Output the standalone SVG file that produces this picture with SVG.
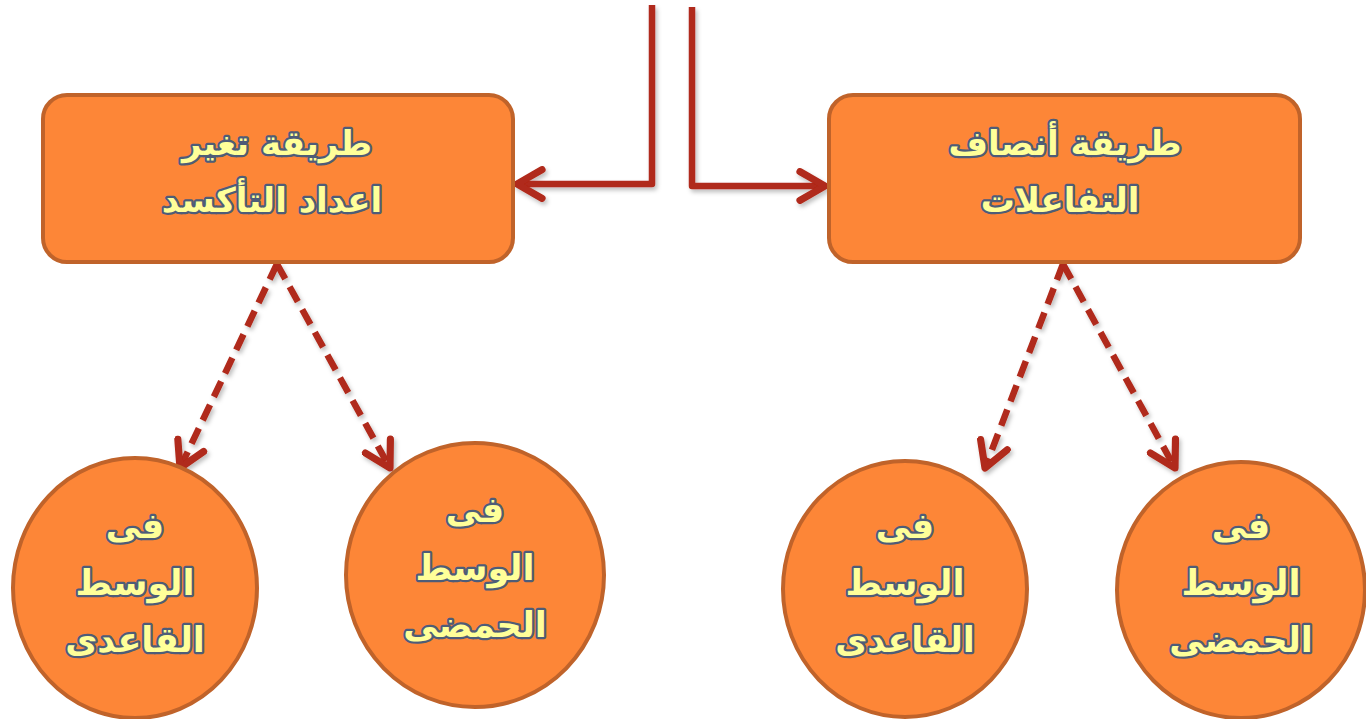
<svg xmlns="http://www.w3.org/2000/svg" width="1366" height="719" viewBox="0 0 1366 719">
<style>
.node{fill:#FD8637;stroke:#C0632A;stroke-width:4}
.t{font-family:"DejaVu Sans","Noto Sans",sans-serif;font-weight:bold;font-size:34px;fill:#FFFF99;stroke:#4E5C78;stroke-width:4.5;paint-order:stroke;stroke-linejoin:round;text-anchor:middle;direction:rtl}
.s{font-size:35px}
.c{fill:none;stroke:#B0291A;stroke-width:6.5;stroke-linejoin:round}
.d{fill:none;stroke:#B0291A;stroke-width:6.5;stroke-dasharray:17 9}
</style>
<defs>
<marker id="ah" viewBox="0 0 20 20" refX="17" refY="10" markerWidth="5.5" markerHeight="5.5" markerUnits="strokeWidth" orient="auto">
<path d="M3,2 L17,10 L3,18" fill="none" stroke="#B0291A" stroke-width="4" stroke-linecap="round" stroke-linejoin="round"/>
</marker>
<filter id="sh" x="-10%" y="-10%" width="120%" height="130%">
<feDropShadow dx="2" dy="3" stdDeviation="2" flood-color="#000" flood-opacity="0.25"/>
</filter>
</defs>
<g id="connectors" filter="url(#sh)">
<path class="c" d="M652,5 V184 H517" marker-end="url(#ah)"/>
<path class="c" d="M692,7 V186 H825" marker-end="url(#ah)"/>
<path class="d" d="M277,264 L180,468" marker-end="url(#ah)"/>
<path class="d" d="M277,264 L390,468" marker-end="url(#ah)"/>
<path class="d" d="M1063,264 L985,468" marker-end="url(#ah)"/>
<path class="d" d="M1063,264 L1175,468" marker-end="url(#ah)"/>
</g>
<g id="box1"><rect class="node" x="43" y="95" width="470" height="167" rx="24"/>
<text class="t" x="277" y="155">طريقة تغير</text><text class="t" x="272" y="212">اعداد التأكسد</text></g>
<g id="box2"><rect class="node" x="829" y="95" width="471" height="167" rx="24"/>
<text class="t" x="1065" y="155">طريقة أنصاف</text><text class="t" x="1060" y="212">التفاعلات</text></g>
<g id="c1"><ellipse class="node" cx="135" cy="588" rx="122" ry="130"/>
<text class="t s" x="135" y="538">فى</text><text class="t s" x="135" y="595">الوسط</text><text class="t s" x="135" y="652">القاعدى</text></g>
<g id="c2"><ellipse class="node" cx="475" cy="575" rx="129" ry="132"/>
<text class="t s" x="475" y="522">فى</text><text class="t s" x="475" y="580">الوسط</text><text class="t s" x="475" y="637">الحمضى</text></g>
<g id="c3"><ellipse class="node" cx="905" cy="589" rx="122" ry="128"/>
<text class="t s" x="905" y="538">فى</text><text class="t s" x="905" y="595">الوسط</text><text class="t s" x="905" y="652">القاعدى</text></g>
<g id="c4"><ellipse class="node" cx="1241" cy="590" rx="124" ry="128"/>
<text class="t s" x="1241" y="538">فى</text><text class="t s" x="1241" y="595">الوسط</text><text class="t s" x="1241" y="652">الحمضى</text></g>
</svg>
